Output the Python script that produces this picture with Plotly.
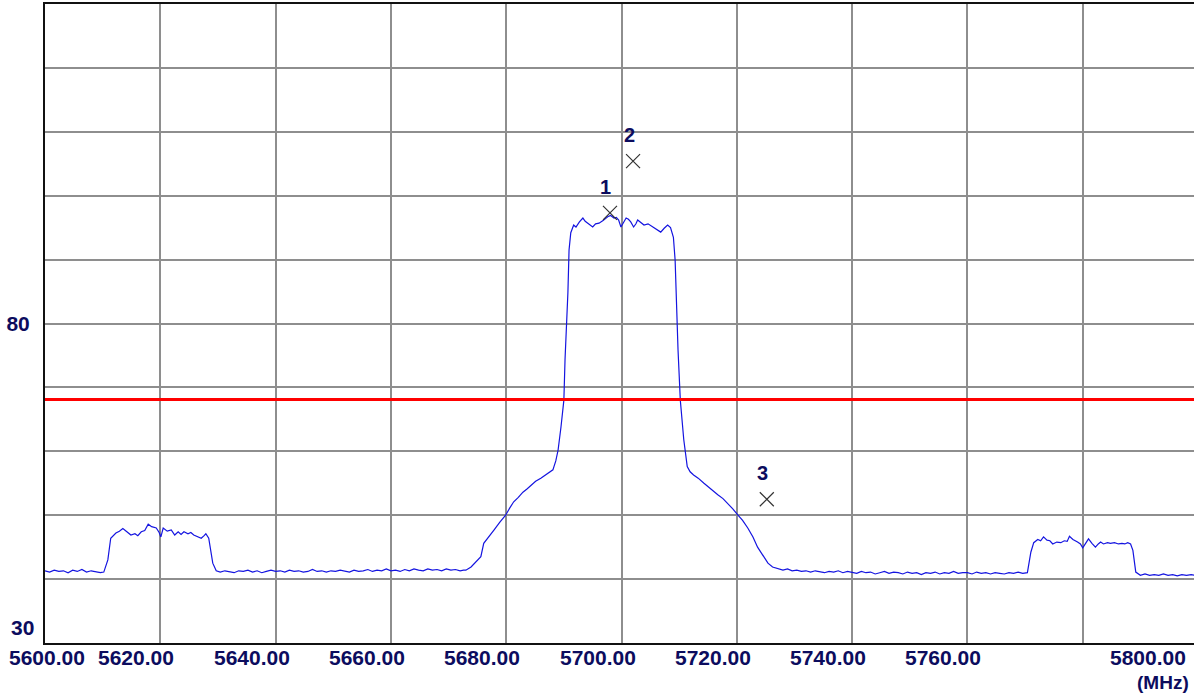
import plotly.graph_objects as go

# ---------------- data ----------------
FREQ = [
    5600.0, 5600.8, 5601.6, 5602.4, 5603.2, 5604.0, 5604.8, 5605.6, 5606.4, 5607.2, 5608.0, 5608.8, 5609.6, 5610.2,
    5610.9, 5611.4, 5611.9, 5612.3, 5612.9, 5613.5, 5614.2, 5614.9, 5615.6, 5616.1, 5616.7, 5617.3, 5617.9, 5618.5,
    5619.3, 5619.8, 5620.1, 5620.5, 5621.2, 5621.9, 5622.5, 5623.1, 5623.6, 5624.1, 5624.8, 5625.3, 5625.8, 5626.5,
    5627.1, 5627.6, 5627.9, 5628.4, 5628.8, 5629.1, 5629.7,
    5630.4, 5631.2, 5632.0, 5632.8, 5633.6, 5634.4, 5635.2, 5636.0, 5636.8, 5637.6, 5638.4, 5639.2, 5640.0, 5640.8,
    5641.6, 5642.4, 5643.2, 5644.0, 5644.8, 5645.6, 5646.4, 5647.2, 5648.0, 5648.8, 5649.6, 5650.4, 5651.2, 5652.0,
    5652.8, 5653.6, 5654.4, 5655.2, 5656.0, 5656.8, 5657.6, 5658.4, 5659.2, 5660.0, 5660.8, 5661.6, 5662.4, 5663.2,
    5664.0, 5664.8, 5665.6, 5666.4, 5667.2, 5668.0, 5668.8, 5669.6, 5670.4, 5671.2, 5672.0, 5672.6,
    5673.0, 5673.9, 5674.7, 5675.6, 5676.1, 5677.0, 5677.9, 5678.9, 5679.9, 5680.6, 5681.3, 5682.1, 5682.9, 5683.6,
    5684.3, 5685.1, 5686.0, 5686.9, 5687.7, 5688.1, 5688.6, 5689.0, 5689.5, 5690.0, 5690.2, 5690.5, 5690.7, 5690.9,
    5691.2, 5691.7, 5692.1, 5692.7, 5693.3, 5693.7, 5694.2, 5694.6, 5695.0, 5695.5, 5696.1, 5696.8, 5697.6, 5698.1,
    5698.7, 5699.1, 5699.5, 5699.9, 5700.3, 5700.8, 5701.2, 5701.6, 5702.1, 5702.5, 5702.8, 5703.3, 5703.9, 5704.6,
    5705.4, 5706.1, 5706.8, 5707.4, 5708.0, 5708.5, 5709.0, 5709.3, 5709.5, 5709.8, 5710.2, 5710.8, 5711.4, 5711.9,
    5712.5, 5713.3, 5714.3, 5715.2, 5716.0, 5716.7, 5717.6, 5718.4, 5719.3, 5720.2, 5721.0, 5721.9, 5722.8, 5723.6,
    5724.5, 5725.4, 5726.2, 5727.1, 5728.0, 5728.8,
    5729.6, 5730.4, 5731.2, 5732.0, 5732.8, 5733.6, 5734.4, 5735.2, 5736.0, 5736.8, 5737.6, 5738.4, 5739.2, 5740.0,
    5740.8, 5741.6, 5742.4, 5743.2, 5744.0, 5744.8, 5745.6, 5746.4, 5747.2, 5748.0, 5748.8, 5749.6, 5750.4, 5751.2,
    5752.0, 5752.8, 5753.6, 5754.4, 5755.2, 5756.0, 5756.8, 5757.6, 5758.4, 5759.2, 5760.0, 5760.8, 5761.6, 5762.4,
    5763.2, 5764.0, 5764.8, 5765.6, 5766.4, 5767.2, 5768.0, 5768.8, 5769.6, 5770.4,
    5771.0, 5771.5, 5772.2, 5772.7, 5773.2, 5773.8, 5774.3, 5774.8, 5775.5, 5776.2, 5776.8, 5777.3, 5777.7, 5778.3,
    5778.8, 5779.1, 5779.6, 5780.0, 5780.5, 5781.0, 5781.6, 5782.2, 5782.7, 5783.1, 5783.6, 5784.3, 5784.8, 5785.5,
    5786.2, 5786.8, 5787.3, 5787.8, 5788.3, 5788.7, 5789.2, 5790.0, 5790.8, 5791.6, 5792.4, 5793.2, 5794.0, 5794.8,
    5795.6, 5796.4, 5797.2, 5798.0, 5798.8, 5799.4,
]
LEVEL = [
    41.3, 41.1, 41.4, 41.2, 41.3, 41.0, 41.4, 41.2, 41.5, 41.1, 41.3, 41.2, 41.0, 41.1,
    43.0, 46.4, 46.9, 47.2, 47.5, 47.9, 47.4, 46.9, 47.1, 46.8, 47.4, 47.6, 48.6, 48.2,
    48.0, 47.3, 46.6, 48.0, 47.5, 47.7, 46.9, 47.4, 47.0, 47.4, 47.1, 47.3, 46.9, 46.6,
    46.4, 46.8, 47.1, 46.4, 44.5, 42.5, 41.3,
    41.1, 41.3, 41.2, 41.0, 41.3, 41.2, 41.4, 41.1, 41.3, 41.0, 41.2, 41.4, 41.2, 41.3,
    41.1, 41.4, 41.2, 41.3, 41.1, 41.2, 41.5, 41.2, 41.3, 41.1, 41.3, 41.2, 41.4, 41.3,
    41.1, 41.4, 41.2, 41.3, 41.5, 41.2, 41.4, 41.3, 41.6, 41.3, 41.4, 41.2, 41.5, 41.3,
    41.6, 41.4, 41.3, 41.6, 41.4, 41.5, 41.3, 41.6, 41.4, 41.5, 41.3, 41.4,
    41.4, 41.9, 42.6, 43.5, 45.6, 46.6, 47.7, 48.9, 50.0, 51.1, 52.1, 52.8, 53.6, 54.1,
    54.7, 55.3, 55.8, 56.3, 56.8, 57.1, 58.5, 60.2, 63.8, 68.0, 74.3, 79.5, 84.8, 91.5,
    94.2, 95.4, 95.1, 95.9, 96.5, 96.0, 95.7, 95.4, 95.1, 95.6, 95.7, 96.1, 96.7, 96.9,
    96.5, 96.6, 96.2, 95.1, 95.8, 96.5, 96.3, 95.9, 95.1, 95.6, 96.2, 95.9, 95.4, 95.6,
    95.1, 94.8, 94.3, 94.9, 95.4, 95.0, 93.5, 89.9, 83.7, 75.9, 68.0, 61.8, 57.6, 56.8,
    56.3, 55.8, 55.0, 54.3, 53.8, 53.2, 52.6, 51.9, 51.0, 50.0, 49.2, 48.0, 46.6, 45.0,
    43.8, 42.5, 41.9, 41.6, 41.4, 41.6,
    41.3, 41.4, 41.2, 41.3, 41.1, 41.3, 41.2, 41.0, 41.2, 41.1, 41.3, 41.0, 41.2, 41.1,
    40.9, 41.2, 41.0, 41.1, 40.8, 41.0, 41.2, 40.9, 41.1, 41.0, 40.8, 41.1, 40.9, 41.0,
    40.7, 41.0, 40.9, 41.1, 40.8, 41.0, 40.9, 41.2, 40.9, 41.0, 41.0, 40.8, 41.1, 40.9,
    41.0, 40.8, 41.0, 40.9, 40.8, 41.0, 40.9, 41.1, 40.9, 41.0,
    44.2, 45.7, 46.2, 46.0, 46.6, 46.1, 46.0, 45.5, 45.8, 45.7, 46.0, 45.9, 46.7, 46.2,
    46.0, 45.8, 45.5, 44.9, 45.6, 46.3, 45.6, 45.0, 45.5, 45.8, 45.5, 45.7, 45.6, 45.7,
    45.5, 45.6, 45.5, 45.7, 45.5, 44.5, 41.1, 40.6, 40.8, 40.6, 40.7, 40.6, 40.8, 40.6,
    40.7, 40.5, 40.7, 40.6, 40.7, 40.6,
]

MARKER_FREQ = [5698.0, 5702.0, 5725.2]
MARKER_LEVEL = [97.3, 105.4, 52.5]
MARKER_LABELS = ["1", "2", "3"]

THRESHOLD = 68.1

X_TICKS = [5600, 5620, 5640, 5660, 5680, 5700, 5720, 5740, 5760, 5780]
X_TICK_LABELS = ["5600.00", "5620.00", "5640.00", "5660.00", "5680.00", "5700.00",
                 "5720.00", "5740.00", "5760.00", ""]
X_LAST_LABEL = "5800.00"
X_UNIT = "(MHz)"
Y_TICKS = [30, 40, 50, 60, 70, 80, 90, 100, 110, 120, 130]
Y_TICK_LABELS = ["", "", "", "", "", "80", "", "", "", "", ""]
Y_BOTTOM_LABEL = "30"

X_RANGE = [5600, 5799.3]
Y_RANGE = [30, 130]

# ---------------- styling ----------------
NAVY = "#0c0c5e"
GRID = "#8e8e8e"
LABEL_FONT = dict(family="Liberation Sans", size=21, color=NAVY, weight="bold")

fig = go.Figure()

fig.add_trace(go.Scatter(
    x=FREQ, y=LEVEL, mode="lines",
    line=dict(color="#1414e0", width=1.2),
    hoverinfo="skip", showlegend=False,
))

fig.add_trace(go.Scatter(
    x=MARKER_FREQ, y=MARKER_LEVEL, mode="markers",
    marker=dict(symbol="x-thin", size=14, line=dict(color="#333333", width=1.2)),
    hoverinfo="skip", showlegend=False,
))

for f, v, t in zip(MARKER_FREQ, MARKER_LEVEL, MARKER_LABELS):
    fig.add_annotation(x=f, y=v, xref="x", yref="y", text=t, showarrow=False,
                       xshift=-4, yshift=26,
                       font=dict(family="Liberation Sans", size=20, color=NAVY, weight="bold"))

fig.add_hline(y=THRESHOLD, line=dict(color="#ff0000", width=3), layer="above")

# x tick labels (drawn left of their gridlines, like the original instrument display)
for i, (v, t) in enumerate(zip(X_TICKS, X_TICK_LABELS)):
    if not t:
        continue
    if i == 0:
        fig.add_annotation(x=v, y=0, xref="x", yref="paper", text=t, showarrow=False,
                           xanchor="left", yanchor="middle", xshift=-38, yshift=-14,
                           font=LABEL_FONT)
    else:
        fig.add_annotation(x=v, y=0, xref="x", yref="paper", text=t, showarrow=False,
                           xanchor="center", yanchor="middle", xshift=-24, yshift=-14,
                           font=LABEL_FONT)

fig.add_annotation(x=1, y=0, xref="paper", yref="paper", text=X_LAST_LABEL, showarrow=False,
                   xanchor="right", yanchor="middle", xshift=-6, yshift=-14, font=LABEL_FONT)
fig.add_annotation(x=1, y=0, xref="paper", yref="paper", text=X_UNIT, showarrow=False,
                   xanchor="right", yanchor="middle", xshift=-3, yshift=-39,
                   font=dict(family="Liberation Sans", size=19, color=NAVY, weight="bold"))
fig.add_annotation(x=0, y=Y_RANGE[0], xref="paper", yref="y", text=Y_BOTTOM_LABEL,
                   showarrow=False, xanchor="right", yanchor="middle", xshift=-9, yshift=16,
                   font=LABEL_FONT)

fig.update_xaxes(
    range=X_RANGE, tickvals=X_TICKS, ticktext=[""] * len(X_TICKS),
    showgrid=True, gridcolor=GRID, gridwidth=2, zeroline=False,
    showline=True, linecolor="#111111", linewidth=2, mirror=True, ticks="",
)
fig.update_yaxes(
    range=Y_RANGE, tickvals=Y_TICKS, ticktext=Y_TICK_LABELS,
    showgrid=True, gridcolor=GRID, gridwidth=2, zeroline=False,
    showline=True, linecolor="#111111", linewidth=2, ticks="",
    tickfont=LABEL_FONT, ticklabelstandoff=9,
)

fig.update_layout(
    width=1194, height=695,
    margin=dict(l=45, r=0, t=4, b=52),
    paper_bgcolor="white", plot_bgcolor="white",
    showlegend=False,
)

fig.write_html(
    "out.html",
    config={"displayModeBar": False},
    post_script="document.body.style.margin='0';document.body.style.padding='0';"
                "document.body.style.overflow='hidden';",
)
